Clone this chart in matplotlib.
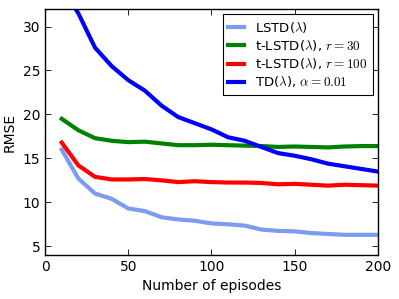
import matplotlib
matplotlib.use("Agg")
import matplotlib.pyplot as plt

plt.rcParams['font.family'] = ['DejaVu Sans']
plt.rcParams['mathtext.fontset'] = 'cm'

episodes = [10, 20, 30, 40, 50, 60, 70, 80, 90, 100, 110, 120, 130, 140, 150, 160, 170, 180, 190, 200]
lstd = [16.0, 12.7, 11.0, 10.4, 9.3, 9.0, 8.3, 8.05, 7.9, 7.6, 7.5, 7.35, 6.9, 6.75, 6.7, 6.5, 6.4, 6.3, 6.3, 6.3]
tlstd30 = [19.5, 18.2, 17.3, 17.0, 16.85, 16.9, 16.7, 16.5, 16.5, 16.55, 16.5, 16.45, 16.4, 16.3, 16.35, 16.3, 16.25, 16.35, 16.4, 16.4]
tlstd100 = [16.8, 14.2, 12.9, 12.6, 12.6, 12.65, 12.5, 12.3, 12.4, 12.3, 12.25, 12.25, 12.2, 12.05, 12.1, 12.0, 11.9, 12.0, 11.95, 11.9]
td = [34.5, 31.5, 27.6, 25.5, 23.9, 22.7, 21.0, 19.7, 19.0, 18.3, 17.4, 17.0, 16.3, 15.6, 15.3, 14.9, 14.4, 14.1, 13.8, 13.5]

labels = [r'LSTD($\lambda$)', r't-LSTD($\lambda$), $r=30$',
          r't-LSTD($\lambda$), $r=100$', r'TD($\lambda$), $\alpha=0.01$']
xticks = [0, 50, 100, 150, 200]
yticks = [5, 10, 15, 20, 25, 30]

fig = plt.figure(figsize=(3.99, 2.99), dpi=100)
ax = fig.add_axes([0.113, 0.147, 0.834, 0.823])
lw = 3
ax.plot(episodes, lstd, color='#7b9cf0', lw=lw, label=labels[0])
ax.plot(episodes, tlstd30, color='#008000', lw=lw, label=labels[1])
ax.plot(episodes, tlstd100, color='#ff0000', lw=lw, label=labels[2])
ax.plot(episodes, td, color='#0000ff', lw=lw, label=labels[3])

ax.set_xlim(0, 200)
ax.set_ylim(4, 32)
ax.set_xticks(xticks)
ax.set_yticks(yticks)
ax.tick_params(direction='in', top=True, right=True, labelsize=10, length=4, width=0.6)
for s in ax.spines.values():
    s.set_linewidth(1.0)
ax.set_xlabel('Number of episodes', fontsize=10)
ax.set_ylabel('RMSE', fontsize=10)
leg = ax.legend(loc='upper right', fontsize=9.5, fancybox=False, framealpha=1,
                edgecolor='black', handlelength=1.2, borderaxespad=0.4,
                labelspacing=0.25, handletextpad=0.8)
leg.get_frame().set_linewidth(0.8)
fig.savefig('out.png', dpi=100)
